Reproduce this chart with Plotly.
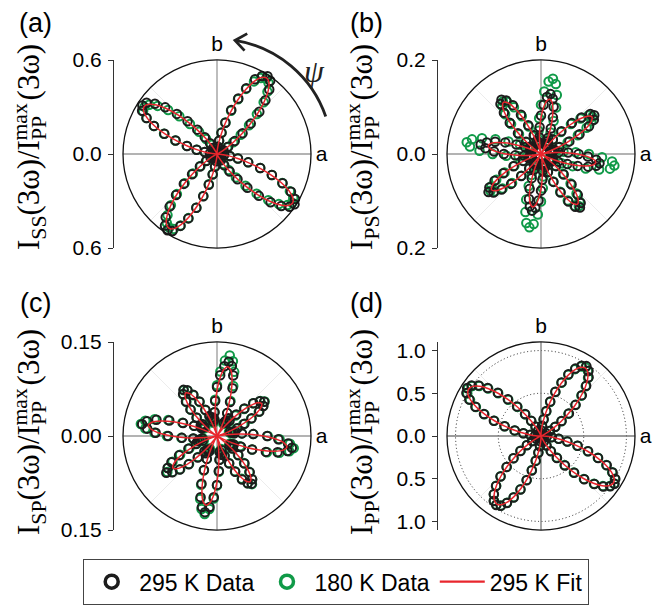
import math
import plotly.graph_objects as go

# ---------------- data ----------------
PSI_DEG = [
    0, 3, 6, 9, 12, 15, 18, 21, 24, 27, 30, 33, 36, 39, 42, 45, 48, 51, 54, 57,
    60, 63, 66, 69, 72, 75, 78, 81, 84, 87, 90, 93, 96, 99, 102, 105, 108, 111, 114, 117,
    120, 123, 126, 129, 132, 135, 138, 141, 144, 147, 150, 153, 156, 159, 162, 165, 168, 171, 174, 177,
    180, 183, 186, 189, 192, 195, 198, 201, 204, 207, 210, 213, 216, 219, 222, 225, 228, 231, 234, 237,
    240, 243, 246, 249, 252, 255, 258, 261, 264, 267, 270, 273, 276, 279, 282, 285, 288, 291, 294, 297,
    300, 303, 306, 309, 312, 315, 318, 321, 324, 327, 330, 333, 336, 339, 342, 345, 348, 351, 354, 357,
]

# (a) I_SS
FIT_SS = [
    .006, .002, 0, 0, 0, 0, 0, .002, .006, .018, .041, .078, .131, .201, .283, .369, .451, .519, .564, .580,
    .564, .519, .451, .369, .283, .201, .131, .078, .041, .018, .006, .002, 0, 0, 0, 0, 0, .002, .006, .017,
    .039, .074, .126, .192, .270, .353, .432, .497, .540, .555, .540, .497, .432, .353, .270, .192, .126, .074, .039, .017,
    .006, .002, 0, 0, 0, 0, 0, .002, .006, .018, .040, .076, .128, .196, .275, .359, .440, .506, .550, .565,
    .550, .506, .440, .359, .275, .196, .128, .076, .040, .018, .006, .002, 0, 0, 0, 0, 0, .002, .006, .018,
    .040, .077, .130, .199, .280, .366, .448, .515, .559, .575, .559, .515, .448, .366, .280, .199, .130, .077, .040, .018,
]
DATA295_SS = [
    .012, .008, .010, .006, .009, .007, .011, .010, .016, .026, .048, .085, .140, .210, .290, .382, .462, .530, .578, .592,
    .575, .535, .460, .380, .295, .207, .138, .085, .046, .024, .012, .008, .010, .007, .009, .008, .011, .009, .014, .024,
    .046, .082, .133, .200, .281, .362, .445, .510, .556, .568, .552, .505, .441, .360, .278, .198, .133, .080, .045, .023,
    .012, .008, .010, .006, .009, .008, .010, .009, .013, .025, .047, .083, .135, .205, .285, .370, .452, .520, .565, .580,
    .568, .515, .450, .368, .284, .203, .134, .082, .046, .024, .012, .009, .010, .007, .009, .008, .010, .009, .013, .025,
    .047, .085, .138, .208, .290, .378, .460, .528, .572, .590, .575, .530, .458, .375, .290, .206, .137, .083, .046, .024,
]
DATA180_SS = [
    .010, .006, .008, .005, .007, .006, .009, .008, .013, .022, .043, .078, .128, .195, .275, .360, .445, .512, .560, .575,
    .560, .520, .455, .374, .290, .208, .140, .086, .047, .022, .010, .006, .008, .005, .007, .006, .009, .008, .012, .020,
    .038, .070, .118, .182, .258, .340, .420, .488, .535, .552, .545, .505, .440, .362, .280, .200, .132, .078, .042, .020,
    .009, .006, .008, .005, .007, .006, .008, .007, .011, .021, .042, .078, .130, .198, .278, .362, .440, .502, .545, .560,
    .552, .512, .448, .368, .282, .200, .130, .077, .041, .020, .009, .006, .008, .005, .007, .006, .008, .007, .011, .021,
    .041, .076, .126, .192, .272, .358, .440, .508, .555, .572, .562, .522, .456, .375, .290, .206, .136, .082, .044, .021,
]

# (b) I_PS
FIT_PS = [
    .077, .053, .030, .011, .001, .0015, .013, .034, .060, .088, .112, .128, .134, .128, .112, .088, .060, .034, .013, .0015,
    .001, .011, .030, .053, .077, .098, .113, .118, .113, .098, .077, .053, .030, .011, .001, .0015, .013, .034, .061, .089,
    .113, .130, .136, .130, .113, .089, .061, .034, .013, .0015, .001, .011, .029, .051, .075, .095, .109, .114, .109, .095,
    .075, .051, .029, .011, .001, .0014, .012, .033, .058, .085, .108, .124, .130, .124, .108, .085, .058, .033, .012, .0014,
    .001, .011, .029, .051, .075, .095, .109, .114, .109, .095, .075, .051, .029, .011, .001, .0014, .013, .033, .059, .086,
    .110, .126, .132, .126, .110, .086, .059, .033, .013, .0014, .001, .011, .030, .053, .077, .098, .113, .118, .113, .098,
]
DATA295_PS = [
    .080, .058, .038, .025, .020, .024, .030, .042, .066, .092, .118, .134, .140, .135, .116, .093, .065, .040, .026, .021,
    .025, .030, .038, .058, .082, .104, .120, .129, .122, .105, .082, .057, .036, .025, .022, .024, .029, .043, .067, .094,
    .120, .136, .143, .137, .118, .094, .066, .041, .027, .022, .021, .026, .037, .056, .080, .101, .118, .130, .119, .100,
    .079, .055, .036, .024, .020, .023, .028, .041, .064, .090, .114, .131, .138, .130, .113, .090, .063, .040, .026, .021,
    .020, .026, .036, .055, .078, .099, .114, .122, .115, .099, .078, .055, .036, .024, .021, .023, .029, .041, .065, .092,
    .117, .134, .141, .134, .117, .092, .065, .041, .027, .022, .022, .028, .040, .060, .082, .104, .120, .126, .118, .100,
]
DATA180_PS = [
    .102, .074, .048, .030, .020, .022, .028, .040, .062, .088, .112, .128, .135, .130, .113, .090, .063, .040, .026, .021,
    .022, .032, .050, .075, .104, .130, .152, .162, .155, .133, .105, .076, .050, .031, .022, .022, .028, .041, .064, .090,
    .115, .132, .138, .131, .114, .090, .063, .040, .026, .021, .021, .031, .049, .074, .102, .130, .150, .160, .152, .131,
    .103, .074, .048, .030, .021, .021, .027, .040, .062, .087, .110, .126, .133, .126, .110, .087, .062, .039, .026, .020,
    .021, .031, .049, .073, .102, .128, .150, .158, .150, .129, .101, .073, .048, .030, .021, .022, .028, .041, .064, .090,
    .114, .131, .137, .130, .113, .089, .063, .040, .026, .021, .020, .030, .048, .072, .100, .128, .150, .158, .152, .130,
]

# (c) I_SP
FIT_SP = [
    .074, .051, .028, .011, .001, .001, .008, .022, .039, .058, .073, .084, .088, .084, .073, .058, .039, .022, .008, .001,
    .001, .011, .028, .050, .073, .093, .107, .112, .107, .093, .073, .050, .028, .011, .001, .001, .008, .021, .038, .056,
    .071, .081, .085, .081, .071, .056, .038, .021, .008, .001, .001, .011, .028, .050, .073, .093, .106, .111, .106, .093,
    .073, .050, .028, .011, .001, .001, .008, .022, .039, .057, .073, .083, .087, .083, .073, .057, .039, .022, .008, .001,
    .001, .011, .028, .050, .073, .093, .107, .112, .107, .093, .073, .050, .028, .011, .001, .001, .009, .023, .040, .059,
    .075, .086, .090, .086, .075, .059, .040, .023, .009, .001, .001, .011, .028, .051, .074, .094, .108, .113, .108, .094,
]
DATA295_SP = [
    .080, .058, .040, .028, .024, .030, .022, .035, .048, .062, .078, .088, .093, .088, .078, .062, .046, .032, .026, .034,
    .028, .024, .040, .058, .080, .100, .114, .120, .112, .097, .078, .056, .038, .027, .030, .024, .030, .034, .046, .062,
    .076, .087, .091, .086, .074, .060, .044, .030, .025, .031, .026, .028, .040, .058, .080, .100, .114, .121, .112, .098,
    .078, .056, .038, .024, .029, .032, .024, .036, .050, .068, .084, .094, .100, .092, .080, .064, .046, .032, .027, .033,
    .025, .028, .040, .058, .080, .101, .116, .123, .114, .098, .078, .056, .038, .026, .030, .031, .024, .034, .048, .064,
    .080, .090, .094, .089, .078, .062, .046, .032, .025, .030, .026, .030, .042, .060, .082, .100, .115, .121, .114, .098,
]
DATA180_SP = [
    .081, .058, .040, .027, .022, .027, .020, .033, .046, .061, .077, .088, .094, .089, .078, .061, .044, .030, .024, .030,
    .026, .022, .040, .060, .084, .106, .122, .130, .121, .103, .081, .058, .038, .026, .027, .022, .027, .032, .045, .061,
    .075, .086, .090, .085, .073, .059, .043, .029, .023, .028, .024, .026, .040, .059, .082, .103, .117, .123, .115, .100,
    .080, .057, .038, .023, .027, .029, .022, .034, .048, .066, .082, .093, .098, .091, .079, .063, .045, .031, .025, .030,
    .023, .027, .040, .059, .082, .104, .119, .126, .117, .100, .079, .057, .038, .025, .028, .028, .022, .033, .047, .063,
    .079, .090, .095, .089, .077, .061, .045, .031, .024, .028, .024, .028, .040, .060, .084, .103, .118, .124, .117, .100,
]

# (d) I_PP
FIT_PP = [
    .028, .009, .002, 0, 0, 0, .002, .009, .026, .059, .113, .190, .290, .407, .534, .662, .777, .869, .929, .950,
    .929, .869, .777, .662, .534, .407, .290, .190, .113, .059, .026, .009, .002, 0, 0, 0, .002, .009, .028, .063,
    .121, .202, .308, .433, .568, .703, .826, .924, .988, 1.010, .988, .924, .826, .703, .568, .433, .308, .202, .121, .063,
    .028, .009, .002, 0, 0, 0, .002, .009, .026, .059, .113, .190, .290, .407, .534, .662, .777, .869, .929, .950,
    .929, .869, .777, .662, .534, .407, .290, .190, .113, .059, .026, .009, .002, 0, 0, 0, .002, .009, .028, .063,
    .121, .202, .308, .433, .568, .703, .826, .924, .988, 1.010, .988, .924, .826, .703, .568, .433, .308, .202, .121, .063,
]
DATA295_PP = [
    .035, .018, .012, .010, .014, .011, .013, .020, .035, .068, .122, .200, .298, .420, .545, .675, .790, .885, .945, .975,
    .950, .885, .790, .672, .545, .418, .300, .198, .120, .066, .033, .018, .012, .010, .013, .011, .014, .020, .036, .072,
    .130, .212, .318, .445, .580, .715, .840, .940, 1.005, 1.030, 1.008, .942, .840, .715, .580, .442, .315, .210, .128, .070,
    .035, .018, .012, .010, .013, .011, .013, .019, .034, .066, .120, .198, .298, .415, .542, .670, .786, .878, .940, .962,
    .942, .880, .788, .672, .545, .418, .298, .198, .120, .066, .034, .018, .012, .010, .013, .011, .013, .020, .036, .072,
    .130, .212, .318, .445, .580, .716, .840, .938, 1.002, 1.025, 1.004, .940, .842, .716, .580, .444, .316, .210, .128, .070,
]
DATA180_PP = [
    .030, .015, .010, .008, .011, .009, .011, .016, .031, .063, .118, .195, .295, .412, .540, .668, .782, .875, .935, .958,
    .938, .878, .785, .668, .540, .412, .294, .193, .116, .062, .029, .015, .010, .008, .011, .009, .011, .016, .032, .068,
    .126, .208, .312, .438, .572, .708, .832, .930, .995, 1.018, .996, .932, .834, .710, .575, .440, .314, .207, .125, .067,
    .031, .015, .010, .008, .011, .009, .011, .016, .031, .063, .117, .195, .295, .412, .540, .668, .784, .876, .936, .958,
    .938, .876, .784, .668, .540, .412, .294, .194, .116, .062, .030, .015, .010, .008, .011, .009, .011, .016, .032, .068,
    .126, .208, .312, .438, .574, .710, .834, .932, .996, 1.020, .998, .934, .836, .712, .575, .440, .314, .208, .126, .068,
]

RMAX = {"a": 0.6, "b": 0.2, "c": 0.15, "d": 1.1}
TICKVALS = {"a": [-0.6, 0.0, 0.6], "b": [-0.2, 0.0, 0.2], "c": [-0.15, 0.0, 0.15],
            "d": [-1.0, -0.5, 0.0, 0.5, 1.0]}
TICKTEXT = {"a": ["0.6", "0.0", "0.6"], "b": ["0.2", "0.0", "0.2"], "c": ["0.15", "0.00", "0.15"],
            "d": ["1.0", "0.5", "0.0", "0.5", "1.0"]}
SUBS = {"a": "SS", "b": "PS", "c": "SP", "d": "PP"}
LEGEND_NAMES = ["295 K Data", "180 K Data", "295 K Fit"]

for arr in [FIT_SS, DATA295_SS, DATA180_SS, FIT_PS, DATA295_PS, DATA180_PS,
            FIT_SP, DATA295_SP, DATA180_SP, FIT_PP, DATA295_PP, DATA180_PP]:
    assert len(arr) == len(PSI_DEG), len(arr)

# ---------------- layout geometry (page pixels; page body has an 8px margin) ----------------
OFF = 8
W, H = 672 - OFF, 607 - OFF
def X(px):
    return (px - OFF) / W
def Y(py):
    return 1 - (py - OFF) / H

SANS = "Arial, Liberation Sans, Helvetica, sans-serif"
SERIF = "Times New Roman, Liberation Serif, serif"
BLACK = "#1c1c1c"
GREEN = "#109a48"
RED = "#e8262d"

panels = [
    dict(k="a", cx=217, cy=154, R=94, axx=113, fit=FIT_SS, d295=DATA295_SS, d180=DATA180_SS,
         labx=31, labb=252, lab=(36, 23)),
    dict(k="b", cx=541, cy=154, R=94, axx=437, fit=FIT_PS, d295=DATA295_PS, d180=DATA180_PS,
         labx=364, labb=252, lab=(367, 23)),
    dict(k="c", cx=217, cy=436, R=94, axx=113, fit=FIT_SP, d295=DATA295_SP, d180=DATA180_SP,
         labx=31, labb=537, lab=(36, 303)),
    dict(k="d", cx=541, cy=436, R=94, axx=437, fit=FIT_PP, d295=DATA295_PP, d180=DATA180_PP,
         labx=364, labb=537, lab=(367, 303)),
]

fig = go.Figure()
layout = dict(
    width=W, height=H, margin=dict(l=0, r=0, t=0, b=0),
    paper_bgcolor="white", plot_bgcolor="rgba(0,0,0,0)", template="none",
    showlegend=True,
    xaxis=dict(domain=[0, 1], visible=False, range=[0, 1], fixedrange=True),
)
annotations = []
shapes = []

for idx, p in enumerate(panels):
    k = p["k"]
    rmax = RMAX[k]
    pol = "polar" if idx == 0 else f"polar{idx + 1}"
    yname = "y" if idx == 0 else f"y{idx + 1}"
    ykey = "yaxis" if idx == 0 else f"yaxis{idx + 1}"
    dom_x = [X(p["cx"] - p["R"]), X(p["cx"] + p["R"])]
    dom_y = [Y(p["cy"] + p["R"]), Y(p["cy"] - p["R"])]
    dotted = k == "d"
    layout[pol] = dict(
        domain=dict(x=dom_x, y=dom_y),
        bgcolor="white",
        radialaxis=dict(range=[0, rmax], showticklabels=False, ticks="", showline=False,
                        showgrid=dotted, gridcolor="#222222", griddash="1px,2.5px", gridwidth=1,
                        tickmode="array", tickvals=[0.5, 1.0] if dotted else []),
        angularaxis=dict(rotation=0, direction="counterclockwise", tickmode="array",
                         tickvals=[0, 90], ticktext=["a", "b"],
                         showline=True, linecolor="#111111", linewidth=1.3,
                         showgrid=False, ticks="",
                         tickfont=dict(size=21, family=SANS, color="black")),
    )
    # faint diagonal guide lines and the a / b axis lines
    fig.add_trace(go.Scatterpolar(
        r=[rmax, 0, rmax, None, rmax, 0, rmax], theta=[45, 45, 225, None, 135, 135, 315],
        mode="lines", line=dict(color="#ececec", width=1), subplot=pol,
        showlegend=False, hoverinfo="skip"))
    cross = "#7a7a7a" if dotted else "#9a9a9a"
    fig.add_trace(go.Scatterpolar(
        r=[rmax, 0, rmax, None, rmax, 0, rmax], theta=[0, 0, 180, None, 90, 90, 270],
        mode="lines", line=dict(color=cross, width=1.3), subplot=pol,
        showlegend=False, hoverinfo="skip"))
    fig.add_trace(go.Scatterpolar(
        r=p["d180"], theta=PSI_DEG, mode="markers", subplot=pol, showlegend=False,
        marker=dict(symbol="circle-open", size=8.5, color=GREEN, line=dict(width=2, color=GREEN))))
    fig.add_trace(go.Scatterpolar(
        r=p["d295"], theta=PSI_DEG, mode="markers", subplot=pol, showlegend=False,
        marker=dict(symbol="circle-open", size=8.5, color=BLACK, line=dict(width=2, color=BLACK))))
    fig.add_trace(go.Scatterpolar(
        r=p["fit"] + p["fit"][:1], theta=PSI_DEG + PSI_DEG[:1], mode="lines", subplot=pol,
        showlegend=False, line=dict(color=RED, width=1.5, shape="spline", smoothing=0.8)))

    # left value scale as a real axis
    layout[ykey] = dict(
        domain=dom_y, range=[-rmax, rmax], anchor="free", position=X(p["axx"]), side="left",
        showline=True, linecolor="#333333", linewidth=1.2, ticks="outside", ticklen=5,
        tickcolor="#333333", tickwidth=1.2, tickmode="array", tickvals=TICKVALS[k],
        ticktext=TICKTEXT[k], tickfont=dict(size=21, family=SANS, color="black"),
        showgrid=False, zeroline=False, fixedrange=True, ticklabelstandoff=2)
    fig.add_trace(go.Scatter(x=[None], y=[None], xaxis="x", yaxis=yname, showlegend=False,
                             hoverinfo="skip"))

    # panel label
    annotations.append(dict(x=X(p["lab"][0]), y=Y(p["lab"][1]), xref="paper", yref="paper",
                            text=f"({k})", showarrow=False, xanchor="center", yanchor="middle",
                            borderpad=0, font=dict(size=27, family=SANS, color="black")))
    # y label with stacked sub/sup
    F = 31
    annotations.append(dict(x=X(p["labx"]), y=Y(p["labb"]), xref="paper", yref="paper",
                            text=f"I<sub>{SUBS[k]}</sub>(3ω)/I<sub>PP</sub>\u00a0\u00a0(3ω)",
                            textangle=-90, showarrow=False, xanchor="center", yanchor="bottom",
                            font=dict(size=F, family=SERIF, color="black")))
    annotations.append(dict(x=X(p["labx"] - 11), y=Y(p["labb"] - 4.177 * F), xref="paper", yref="paper",
                            text="max", textangle=-90, showarrow=False, xanchor="center",
                            yanchor="middle", font=dict(size=0.7 * F, family=SERIF, color="black")))

# psi arrow (panel a)
cx, cy, R = 217, 154, 115
a0, a1 = math.radians(19), math.radians(81)
kk = 4 / 3 * math.tan((a1 - a0) / 4)
def pt(a):
    return (cx + R * math.cos(a), cy - R * math.sin(a))
P0, P3 = pt(a0), pt(a1)
P1 = (P0[0] - kk * R * math.sin(a0), P0[1] - kk * R * math.cos(a0))
P2 = (P3[0] + kk * R * math.sin(a1), P3[1] + kk * R * math.cos(a1))
path = (f"M {X(P0[0])},{Y(P0[1])} C {X(P1[0])},{Y(P1[1])} {X(P2[0])},{Y(P2[1])} "
        f"{X(P3[0])},{Y(P3[1])}")
shapes.append(dict(type="path", xref="paper", yref="paper", path=path,
                   line=dict(color="#222222", width=2.8)))
bx, by = math.sin(a1), math.cos(a1)  # backwards direction (screen)
arms = []
for s in (1, -1):
    ang = math.radians(38) * s
    ax = bx * math.cos(ang) - by * math.sin(ang)
    ay = bx * math.sin(ang) + by * math.cos(ang)
    arms.append((P3[0] + 14 * ax, P3[1] + 14 * ay))
head = (f"M {X(arms[0][0])},{Y(arms[0][1])} L {X(P3[0])},{Y(P3[1])} "
        f"L {X(arms[1][0])},{Y(arms[1][1])}")
shapes.append(dict(type="path", xref="paper", yref="paper", path=head,
                   line=dict(color="#222222", width=2.8)))
annotations.append(dict(x=X(314), y=Y(51), xref="paper", yref="paper", text="<i>ψ</i>",
                        showarrow=False, font=dict(size=32, family=SERIF, color="#222222")))

# legend-only entries
fig.add_trace(go.Scatterpolar(r=[None], theta=[None], mode="markers", name=LEGEND_NAMES[0],
                              subplot="polar",
                              marker=dict(symbol="circle-open", size=13, color=BLACK,
                                          line=dict(width=3.5, color=BLACK))))
fig.add_trace(go.Scatterpolar(r=[None], theta=[None], mode="markers", name=LEGEND_NAMES[1],
                              subplot="polar",
                              marker=dict(symbol="circle-open", size=13, color=GREEN,
                                          line=dict(width=3.5, color=GREEN))))
fig.add_trace(go.Scatterpolar(r=[None], theta=[None], mode="lines", name=LEGEND_NAMES[2],
                              subplot="polar", line=dict(color=RED, width=2.2)))

layout["legend"] = dict(orientation="h", x=X(589), xanchor="right", y=Y(605), yanchor="bottom",
                        bordercolor="#444444", borderwidth=1.2, bgcolor="white",
                        font=dict(size=23, family=SANS, color="black"), itemwidth=45,
                        traceorder="normal")
layout["annotations"] = annotations
layout["shapes"] = shapes
fig.update_layout(**layout)
fig.write_html("out.html")
